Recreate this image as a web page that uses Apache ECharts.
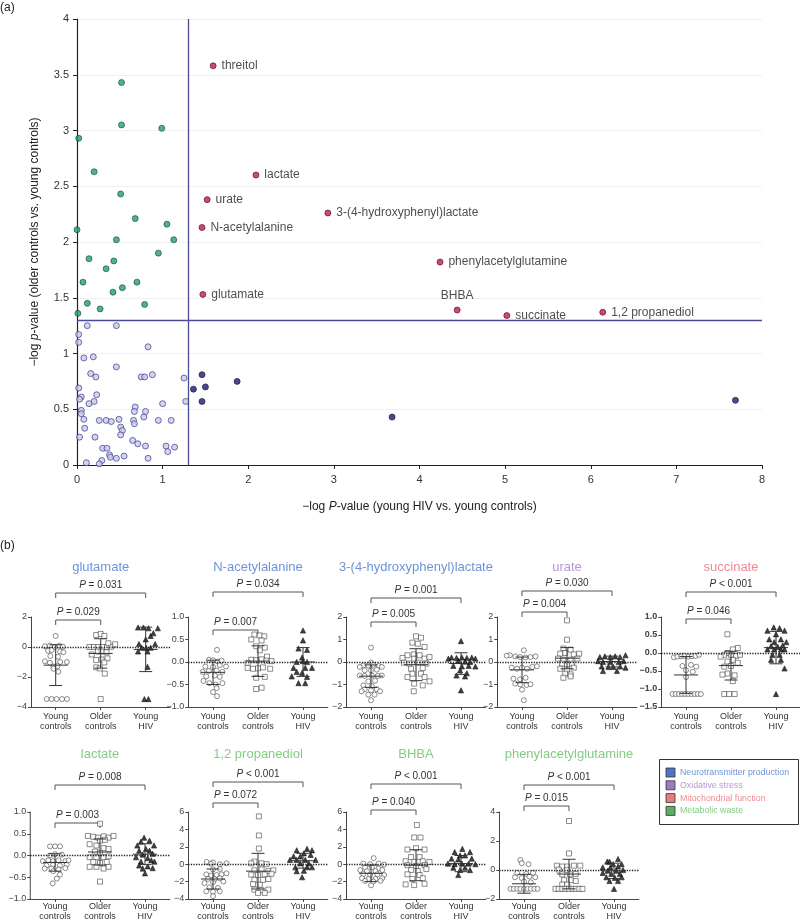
<!DOCTYPE html>
<html><head><meta charset="utf-8">
<script src="https://cdn.jsdelivr.net/npm/echarts@6/dist/echarts.min.js"></script>
<style>html,body{margin:0;padding:0;background:#fff}#c{width:800px;height:921px}</style>
</head><body><div id="c"></div>
<script>
// ---------- Panel (a): volcano-like scatter ----------
const threshold = 1.3;
const redNames = ['threitol','lactate','urate','N-acetylalanine','3-(4-hydroxyphenyl)lactate','phenylacetylglutamine','glutamate','BHBA','succinate','1,2 propanediol'];
const redX = [1.59,2.09,1.52,1.46,2.93,4.24,1.47,4.44,5.02,6.14];
const redY = [3.58,2.60,2.38,2.13,2.26,1.82,1.53,1.39,1.34,1.37];
const greenPts = [[0.52,3.43],[0.52,3.05],[0.99,3.02],[0.02,2.93],[0.20,2.63],[0.51,2.43],[0.68,2.21],[1.05,2.16],[0.0,2.11],[0.46,2.02],[1.13,2.02],[0.95,1.90],[0.14,1.85],[0.43,1.83],[0.34,1.76],[0.07,1.64],[0.70,1.64],[0.53,1.59],[0.42,1.55],[0.12,1.45],[0.27,1.40],[0.79,1.44],[0.01,1.36]];
const lavPts = [[0.12,1.25],[0.46,1.25],[0.02,1.17],[0.02,1.10],[0.83,1.06],[0.08,0.96],[0.19,0.97],[0.46,0.88],[0.16,0.82],[0.22,0.79],[0.75,0.79],[0.79,0.79],[0.88,0.81],[1.25,0.78],[0.02,0.69],[0.05,0.61],[0.03,0.59],[0.23,0.63],[0.20,0.57],[0.14,0.55],[1.27,0.57],[1.00,0.55],[0.68,0.52],[0.80,0.48],[0.67,0.48],[0.05,0.49],[0.05,0.46],[0.08,0.41],[0.26,0.40],[0.34,0.40],[0.40,0.39],[0.49,0.41],[0.66,0.40],[0.67,0.37],[0.78,0.43],[0.95,0.40],[1.10,0.40],[0.09,0.33],[0.51,0.34],[0.53,0.31],[0.51,0.27],[0.03,0.25],[0.21,0.25],[0.65,0.22],[0.71,0.19],[0.80,0.17],[1.04,0.17],[1.14,0.16],[0.30,0.15],[0.35,0.15],[1.06,0.12],[0.38,0.09],[0.39,0.07],[0.46,0.06],[0.55,0.08],[0.83,0.06],[0.11,0.02],[0.29,0.04],[0.26,0.01]];
const navyPts = [[1.46,0.81],[1.36,0.68],[1.50,0.70],[1.46,0.57],[1.87,0.75],[3.68,0.43],[7.69,0.58]];

// ---------- Panel (b): group dot plots, points as [offset within group, value] ----------
const xCats = ['Young\ncontrols','Older\ncontrols','Young\nHIV'];
const panelTitles = ['glutamate','N-acetylalanine','3-(4-hydroxyphenyl)lactate','urate','succinate','lactate','1,2 propanediol','BHBA','phenylacetylglutamine'];
const panelGroup = [0,0,0,1,2,3,3,3,3];
const groupNames = ['Neurotransmitter production','Oxidative stress','Mitochondrial function','Metabolic waste'];
const pUpper = ['P = 0.031','P = 0.034','P = 0.001','P = 0.030','P < 0.001','P = 0.008','P < 0.001','P < 0.001','P < 0.001'];
const pLower = ['P = 0.029','P = 0.007','P = 0.005','P = 0.004','P = 0.046','P = 0.003','P = 0.072','P = 0.040','P = 0.015'];
const yMin = [-4,-1,-2,-2,-1.5,-1,-4,-4,-2];
const yMax = [2,1,2,2,1,1,6,6,4];
const yStep = [2,0.5,1,1,0.5,0.5,2,2,2];
const yDec = [0,1,0,0,1,1,0,0,0];

const gluYC = [[0,0.74],[-0.24,0.05],[-0.13,0.1],[-0.02,0.0],[0.08,0.08],[0.16,0.02],[-0.17,-0.25],[-0.09,-0.2],[0.1,-0.3],[0.17,-0.35],[-0.12,-0.6],[0.05,-0.65],[-0.24,-0.95],[-0.13,-1.05],[0.1,-1.0],[0.25,-1.0],[-0.05,-1.3],[0.04,-1.27],[-0.05,-1.45],[0.06,-1.65],[-0.2,-3.47],[-0.09,-3.47],[0.02,-3.47],[0.14,-3.47],[0.25,-3.47]];
const gluOC = [[-0.1,0.8],[0.0,0.87],[0.08,0.74],[-0.25,0.0],[-0.15,0.0],[-0.06,0.0],[0.04,0.0],[0.14,0.0],[0.23,0.02],[0.32,0.18],[0.17,0.25],[-0.06,-0.3],[0.02,-0.3],[0.13,-0.35],[-0.2,-0.5],[-0.1,-0.87],[0.02,-0.83],[0.15,-0.76],[0.08,-1.03],[-0.1,-1.36],[-0.02,-1.43],[0.09,-1.77],[0.0,-3.47]];
const gluHIV = [[-0.17,1.3],[-0.05,1.3],[0.06,1.25],[0.27,1.25],[0.17,0.92],[0.11,0.74],[0.0,0.51],[-0.15,0.2],[0.21,0.2],[-0.09,-0.05],[0.01,-0.05],[0.11,-0.05],[-0.17,-0.3],[0.04,-0.3],[0.04,-1.32],[-0.03,-3.47],[0.06,-3.47]];
const gluMean = [-1.21,-0.43,-0.16], gluSD = [1.36,0.98,1.48];

const nacYC = [[0.09,0.27],[-0.09,0.05],[0.0,0.04],[0.11,0.01],[0.19,0.03],[-0.17,-0.1],[0.0,-0.11],[0.15,-0.07],[0.29,-0.1],[-0.23,-0.22],[-0.09,-0.2],[0.08,-0.19],[0.21,-0.22],[-0.15,-0.32],[0.04,-0.3],[0.15,-0.33],[-0.21,-0.42],[-0.08,-0.47],[0.06,-0.5],[0.21,-0.47],[0.08,-0.58],[0.0,-0.67],[0.09,-0.76]];
const nacOC = [[-0.08,0.61],[0.04,0.59],[0.14,0.57],[-0.15,0.5],[0.08,0.48],[-0.04,0.35],[0.15,0.32],[0.04,0.26],[0.2,0.12],[-0.15,0.05],[-0.04,0.04],[0.08,0.06],[0.19,0.03],[0.3,0.02],[-0.23,-0.02],[-0.23,-0.13],[-0.11,-0.15],[0.0,-0.14],[0.11,-0.12],[0.27,-0.15],[-0.04,-0.35],[0.15,-0.33],[0.08,-0.57],[-0.04,-0.6]];
const nacHIV = [[0,0.7],[0,0.48],[-0.1,0.3],[0.09,0.27],[-0.02,0.1],[0,0.02],[-0.14,0.0],[0.09,0.0],[-0.21,-0.13],[0.05,-0.13],[0.2,-0.13],[-0.14,-0.22],[-0.02,-0.24],[-0.25,-0.32],[0.09,-0.33],[-0.1,-0.47],[0.05,-0.47]];
const nacMean = [-0.23,0.02,0.0], nacSD = [0.27,0.34,0.32];

const hplYC = [[0,0.64],[0,-0.03],[-0.17,-0.15],[-0.06,-0.15],[0.05,-0.12],[0.17,-0.18],[-0.25,-0.22],[0.24,-0.22],[-0.14,-0.37],[0,-0.37],[0.13,-0.34],[-0.25,-0.6],[-0.14,-0.62],[0.02,-0.6],[0.15,-0.62],[0.24,-0.6],[-0.06,-0.86],[0.09,-0.83],[-0.17,-1.04],[0.02,-1.07],[-0.14,-1.21],[0,-1.26],[0.13,-1.21],[-0.21,-1.3],[0.2,-1.3],[-0.06,-1.45],[0.08,-1.45],[0,-1.7]];
const hplOC = [[0,1.14],[0.11,1.08],[-0.08,0.86],[0.04,0.81],[0.19,0.67],[-0.19,0.3],[-0.05,0.34],[0.08,0.3],[-0.3,0.18],[-0.04,0.15],[0.19,0.15],[0.3,0.22],[-0.27,-0.03],[-0.15,-0.07],[0.04,-0.03],[0.23,-0.07],[-0.11,-0.3],[0.15,-0.27],[-0.08,-0.52],[0.11,-0.52],[-0.19,-0.67],[0.19,-0.67],[0.3,-0.86],[-0.04,-0.96],[0.15,-1.04],[-0.05,-1.3]];
const hplHIV = [[0,0.93],[-0.21,0.2],[-0.1,0.18],[0.02,0.2],[0.13,0.18],[0.24,0.2],[0.32,0.15],[-0.28,0.15],[-0.06,0.05],[0.09,0.02],[0.2,0.0],[-0.17,-0.17],[0.02,-0.2],[0.17,-0.17],[0.32,-0.2],[-0.02,-0.37],[0.13,-0.5],[-0.1,-0.6],[0.09,-0.64],[0,-1.26]];
const hplMean = [-0.63,-0.12,-0.07], hplSD = [0.5,0.71,0.48];

const urYC = [[0.04,0.52],[-0.27,0.3],[-0.15,0.25],[-0.04,0.22],[0.08,0.2],[0.19,0.22],[0.3,0.25],[-0.34,0.28],[-0.23,-0.25],[-0.11,-0.3],[0,-0.25],[0.11,-0.3],[0.23,-0.22],[0.33,-0.19],[-0.19,-0.74],[-0.04,-0.77],[0.08,-0.7],[-0.15,-0.96],[-0.04,-0.99],[0.1,-1.02],[0.19,-0.99],[0,-1.23],[0.04,-1.7]];
const urOC = [[0,1.85],[0,0.99],[-0.08,0.6],[0.08,0.55],[-0.15,0.37],[-0.04,0.4],[0.15,0.34],[0.27,0.37],[-0.2,0.15],[-0.08,0.1],[0.08,0.1],[0.23,0.15],[-0.11,-0.07],[0,-0.1],[0.11,-0.07],[-0.15,-0.3],[0,-0.34],[0.15,-0.25],[-0.04,-0.52],[0.08,-0.55],[-0.08,-0.7],[0.08,-0.64]];
const urHIV = [[-0.27,0.22],[-0.16,0.25],[-0.04,0.22],[0.07,0.25],[0.18,0.22],[0.3,0.3],[-0.31,0.04],[-0.2,0.0],[-0.04,0.0],[0.15,0.0],[0.26,0.04],[-0.23,-0.2],[-0.08,-0.22],[0.03,-0.22],[0.18,-0.2],[0.3,-0.25],[-0.2,-0.4],[0.11,-0.4]];
const urMean = [-0.35,0.17,0.02], urSD = [0.57,0.47,0.24];

const sucYC = [[-0.27,-0.12],[-0.19,-0.1],[-0.11,-0.09],[-0.03,-0.08],[0.05,-0.1],[0.13,-0.09],[0.21,-0.08],[0.29,-0.05],[-0.08,-0.36],[0.11,-0.33],[0.23,-0.38],[0,-0.48],[0.15,-0.52],[0,-0.67],[-0.3,-1.14],[-0.23,-1.14],[-0.16,-1.14],[-0.09,-1.14],[-0.02,-1.14],[0.05,-1.14],[0.12,-1.14],[0.19,-1.14],[0.26,-1.14],[0.33,-1.14]];
const sucOC = [[-0.08,0.52],[0.15,0.14],[0.04,0.1],[-0.08,0.0],[-0.15,-0.05],[0,-0.05],[0.11,-0.08],[-0.23,-0.1],[0.2,-0.05],[0.04,-0.19],[-0.08,-0.24],[0.15,-0.27],[0,-0.36],[-0.15,-0.38],[-0.08,-0.57],[0.08,-0.62],[-0.19,-0.6],[0.04,-0.78],[-0.15,-1.14],[-0.04,-1.14],[0.08,-1.14]];
const sucHIV = [[-0.05,0.71],[0.08,0.69],[-0.19,0.62],[0.19,0.62],[0,0.52],[-0.15,0.38],[0.11,0.38],[-0.04,0.3],[0.23,0.3],[-0.11,0.19],[0.04,0.17],[0.15,0.21],[-0.19,0.1],[-0.04,0.1],[0.11,0.1],[0.19,0.1],[-0.08,-0.05],[0.08,-0.05],[-0.11,-0.19],[0.11,-0.19],[0.19,-0.43],[0,-1.14]];
const sucMean = [-0.61,-0.35,0.15], sucSD = [0.51,0.4,0.45];

const lacYC = [[-0.11,0.21],[0,0.21],[0.11,0.21],[-0.11,0.0],[0,0.03],[0.15,0.02],[-0.27,-0.13],[-0.15,-0.11],[-0.04,-0.13],[0.08,-0.11],[0.23,-0.13],[0.3,-0.11],[-0.19,-0.23],[-0.04,-0.21],[0.11,-0.23],[0.26,-0.21],[-0.23,-0.3],[-0.08,-0.3],[0.08,-0.32],[0.23,-0.29],[-0.04,-0.36],[0.11,-0.44],[0.04,-0.53],[-0.05,-0.64]];
const lacOC = [[0,0.73],[-0.27,0.45],[-0.15,0.43],[-0.04,0.41],[0.08,0.44],[0.19,0.41],[0.3,0.45],[0,0.34],[0.11,0.36],[-0.23,0.26],[-0.08,0.23],[0.08,0.17],[0.19,0.15],[-0.11,0.09],[0,0.06],[-0.23,-0.04],[-0.08,-0.04],[0.08,-0.04],[0.19,-0.02],[-0.15,-0.15],[0,-0.17],[0.15,-0.15],[-0.23,-0.26],[-0.08,-0.26],[0.08,-0.3],[0.19,-0.26],[0,-0.6]];
const lacHIV = [[-0.02,0.41],[0.1,0.34],[-0.09,0.32],[-0.17,0.23],[0.2,0.23],[0.02,0.15],[-0.13,0.11],[0.1,0.11],[0.17,0.04],[-0.05,0.02],[-0.2,-0.04],[0.06,-0.06],[-0.09,-0.14],[0.14,-0.11],[0.21,-0.14],[-0.13,-0.23],[0.06,-0.25],[-0.05,-0.3],[0.17,-0.29],[0,-0.41]];
const lacMean = [-0.16,0.08,0.03], lacSD = [0.2,0.3,0.24];

const pdYC = [[-0.14,0.26],[0,0.2],[0.15,0.0],[0.3,0.1],[-0.05,0.05],[0,-0.6],[0.15,-0.55],[-0.15,-1.17],[-0.04,-1.3],[0.08,-1.24],[0.19,-1.17],[0.3,-1.05],[-0.11,-1.69],[0.04,-1.72],[0.15,-1.61],[-0.19,-2.17],[0,-2.06],[0.23,-2.0],[-0.08,-2.66],[0.11,-2.73],[-0.15,-3.12],[0,-3.18],[0.15,-3.12],[0,-3.67]];
const pdOC = [[0.02,5.5],[0.02,3.3],[0.02,1.8],[-0.08,0.3],[0.08,0.1],[0.19,0.0],[-0.15,0.1],[-0.08,-0.7],[0.08,-0.6],[0.23,-0.8],[0.34,-0.7],[-0.15,-1.2],[0,-1.24],[0.15,-1.17],[0.3,-1.1],[-0.08,-1.8],[0.11,-1.8],[0.23,-1.7],[-0.11,-2.28],[0.04,-2.36],[-0.08,-2.92],[0.08,-3.0],[0.23,-2.92],[0,-3.3],[0.15,-3.3]];
const pdHIV = [[0.09,1.76],[-0.14,1.6],[0.2,1.6],[0.02,1.25],[-0.21,0.9],[-0.06,0.9],[0.17,1.07],[-0.29,0.5],[-0.14,0.5],[0.05,0.5],[0.28,0.5],[-0.06,0.1],[0.13,0.1],[-0.17,-0.35],[0.09,-0.35],[0.2,-0.35],[-0.14,-0.8],[0.02,-0.75],[-0.02,-1.5]];
const pdMean = [-1.7,-0.8,0.4], pdSD = [1.15,2.05,0.85];

const bhYC = [[0.06,0.7],[-0.17,0.07],[-0.02,0.0],[0.17,0.07],[0.29,-0.04],[-0.13,-0.41],[0.02,-0.34],[0.17,-0.49],[-0.24,-0.67],[-0.09,-0.79],[0.1,-0.79],[0.25,-0.67],[-0.17,-1.16],[-0.02,-1.24],[0.14,-1.16],[0.29,-1.24],[-0.2,-1.61],[-0.05,-1.69],[0.1,-1.69],[0.25,-1.61],[-0.13,-1.91],[0.05,-1.99],[0.21,-1.91],[0,-2.43]];
const bhOC = [[0.02,4.5],[-0.04,3.07],[0.1,3.07],[-0.19,1.69],[0,1.84],[0.19,1.69],[-0.11,0.82],[0.08,0.82],[-0.23,0.34],[-0.04,0.26],[0.15,0.34],[0.3,0.26],[-0.19,-0.11],[0,-0.19],[0.19,-0.11],[-0.11,-0.67],[0.04,-0.79],[0.23,-0.56],[-0.19,-1.16],[0.08,-1.24],[-0.08,-1.69],[0.15,-1.61],[-0.23,-2.32],[-0.04,-2.4],[0.19,-2.25]];
const bhHIV = [[0.03,1.76],[-0.14,1.39],[0.2,1.39],[-0.02,1.01],[0.09,1.01],[-0.21,0.64],[-0.06,0.56],[0.24,0.64],[-0.29,0.07],[-0.14,0.0],[0.02,0.07],[0.17,0.07],[0.32,0.0],[-0.17,-0.41],[0.09,-0.41],[-0.02,-0.67],[0.2,-0.67],[-0.06,-1.24]];
const bhMean = [-1.05,-0.12,0.07], bhSD = [0.95,1.78,0.93];

const pagYC = [[-0.08,0.69],[0.1,0.4],[-0.05,0.47],[-0.15,-0.2],[0.05,-0.27],[0.2,-0.2],[-0.2,-0.5],[-0.05,-0.55],[0.12,-0.45],[0.25,-0.5],[0,-0.8],[0.15,-0.85],[-0.3,-1.3],[-0.23,-1.3],[-0.15,-1.3],[-0.08,-1.3],[0,-1.3],[0.08,-1.3],[0.15,-1.3],[0.23,-1.3],[0.3,-1.3]];
const pagOC = [[0,3.38],[0,1.14],[-0.27,0.3],[-0.15,0.24],[-0.04,0.24],[0.11,0.3],[0.25,0.3],[-0.23,0.03],[-0.04,0.01],[-0.15,-0.3],[0.02,-0.3],[0.15,-0.27],[-0.11,-0.7],[0.04,-0.7],[0.15,-0.76],[-0.15,-1.0],[-0.04,-1.0],[-0.3,-1.3],[-0.23,-1.3],[-0.15,-1.3],[-0.08,-1.3],[0,-1.3],[0.08,-1.3],[0.15,-1.3],[0.23,-1.3],[0.3,-1.3]];
const pagHIV = [[-0.15,0.58],[-0.1,0.58],[0.09,0.76],[-0.02,0.4],[0.17,0.4],[-0.25,0.18],[-0.08,0.18],[0.09,0.24],[-0.14,-0.05],[0.05,-0.05],[0.2,0.0],[-0.25,-0.2],[-0.06,-0.27],[0.13,-0.27],[-0.17,-0.5],[0.02,-0.54],[0.17,-0.5],[-0.1,-0.76],[0.09,-0.76],[0,-1.3]];
const pagMean = [-0.95,-0.28,-0.06], pagSD = [0.65,1.02,0.53];

const panelData = [[gluYC,gluOC,gluHIV],[nacYC,nacOC,nacHIV],[hplYC,hplOC,hplHIV],[urYC,urOC,urHIV],[sucYC,sucOC,sucHIV],[lacYC,lacOC,lacHIV],[pdYC,pdOC,pdHIV],[bhYC,bhOC,bhHIV],[pagYC,pagOC,pagHIV]];
const panelMean = [gluMean,nacMean,hplMean,urMean,sucMean,lacMean,pdMean,bhMean,pagMean];
const panelSD = [gluSD,nacSD,hplSD,urSD,sucSD,lacSD,pdSD,bhSD,pagSD];

// ---------- layout & style (not data) ----------
const FONT = '"Liberation Sans", Arial, Helvetica, sans-serif';
const groupText = ['#6d94d8','#b994d6','#f08a92','#84cc84'];
const groupFill = ['#4f74c4','#9a7cbc','#e77a7a','#5fae5f'];
const U = 45; // px per group
const layout = [
  {c0:55.7, top:617, h:90, bU:593, bL:620, tY:567, lm:5},
  {c0:213,  top:617, h:90, bU:592, bL:630, tY:567, lm:5},
  {c0:371,  top:617, h:90, bU:598, bL:622, tY:567, lm:5},
  {c0:522,  top:617, h:90, bU:591, bL:612, tY:567, lm:5},
  {c0:686,  top:617, h:90, bU:592, bL:619, tY:567, lm:5},
  {c0:55,   top:812, h:87, bU:785, bL:823, tY:754, lm:3},
  {c0:213,  top:812, h:87, bU:782, bL:803, tY:754, lm:3},
  {c0:371,  top:812, h:87, bU:784, bL:810, tY:754, lm:3},
  {c0:524,  top:812, h:87, bU:785, bL:806, tY:754, lm:3}
];

const grids = [{left:77, top:19, width:685, height:446, containLabel:false, outerBoundsMode:'none'}];
const xAxes = [{
  gridIndex:0, type:'value', min:0, max:8, interval:1,
  axisLine:{show:true, lineStyle:{color:'#222', width:1.2}},
  axisTick:{show:true, length:4, lineStyle:{color:'#222'}},
  axisLabel:{fontSize:11, color:'#333', margin:9, fontFamily:FONT},
  splitLine:{show:false},
  name:'−log {i|P}-value (young HIV vs. young controls)', nameLocation:'middle', nameGap:36,
  nameTextStyle:{fontSize:12, color:'#222', fontFamily:FONT, rich:{i:{fontStyle:'italic', fontSize:12, color:'#222', fontFamily:FONT}}}
}];
const yAxes = [{
  gridIndex:0, type:'value', min:0, max:4, interval:0.5,
  axisLine:{show:true, lineStyle:{color:'#222', width:1.2}},
  axisTick:{show:true, length:4, lineStyle:{color:'#222'}},
  axisLabel:{fontSize:11, color:'#333', margin:8, fontFamily:FONT},
  splitLine:{show:true, lineStyle:{color:'#f0f0f0', width:1}},
  name:'−log {i|p}-value (older controls vs. young controls)', nameLocation:'middle', nameGap:36,
  nameTextStyle:{fontSize:12, color:'#222', fontFamily:FONT, rich:{i:{fontStyle:'italic', fontSize:12, color:'#222', fontFamily:FONT}}}
}];

const series = [
  {type:'scatter', xAxisIndex:0, yAxisIndex:0, symbolSize:6, z:3,
   itemStyle:{color:'#c9c9ea', borderColor:'#3c3c8c', borderWidth:0.9},
   data:lavPts,
   markLine:{silent:true, symbol:'none', label:{show:false}, animation:false,
     lineStyle:{color:'#4a4a96', width:1.3, type:'solid'},
     data:[{xAxis:threshold},{yAxis:threshold}]}},
  {type:'scatter', xAxisIndex:0, yAxisIndex:0, symbolSize:6, z:3,
   itemStyle:{color:'#229c7c', borderColor:'#17443f', borderWidth:0.8}, data:greenPts},
  {type:'scatter', xAxisIndex:0, yAxisIndex:0, symbolSize:6, z:3,
   itemStyle:{color:'#1b1d6a', borderColor:'#10113f', borderWidth:0.8}, data:navyPts},
  {type:'scatter', xAxisIndex:0, yAxisIndex:0, symbolSize:6, z:4,
   itemStyle:{color:'#c41a4c', borderColor:'#4a0a1c', borderWidth:0.8},
   label:{show:true, position:'right', distance:5, fontSize:12, color:'#222', fontFamily:FONT,
     formatter:p=>p.data.value[2]},
   data:redNames.map((n,i)=>{
     const d = {value:[redX[i], redY[i], n]};
     if (n==='BHBA') d.label = {position:'top', distance:5};
     return d;
   })}
];

const fmtY = (dec)=> (v)=> (v<0?'−':'') + Math.abs(v).toFixed(dec);

panelTitles.forEach((t,k)=>{
  const L = layout[k];
  const gi = k+1;
  grids.push({left:L.c0-0.55*U, top:L.top, width:3.1*U, height:L.h, containLabel:false, outerBoundsMode:'none'});
  xAxes.push({gridIndex:gi, type:'value', min:-0.55, max:2.55,
    axisLine:{show:true, onZero:false, lineStyle:{color:'#444', width:1}},
    axisTick:{show:true, length:3, customValues:[0,1,2], lineStyle:{color:'#444'}},
    axisLabel:{customValues:[0,1,2], formatter:v=>xCats[Math.round(v)], fontSize:9, lineHeight:9.5, color:'#333', margin:L.lm, fontFamily:FONT},
    splitLine:{show:false}});
  yAxes.push({gridIndex:gi, type:'value', min:yMin[k], max:yMax[k], interval:yStep[k],
    axisLine:{show:true, onZero:false, lineStyle:{color:'#444', width:1}},
    axisTick:{show:true, length:3, lineStyle:{color:'#444'}},
    axisLabel:{formatter:fmtY(yDec[k]), fontSize:9, color:'#444', margin:4, fontFamily:FONT, fontWeight: k===4?'bold':'normal'},
    splitLine:{show:false}});
  const shapes = [
    {symbol:'circle', size:5, color:'#fff', border:'#333'},
    {symbol:'rect', size:5, color:'#fff', border:'#333'},
    {symbol:'triangle', size:5.2, color:'#111', border:'#111'}
  ];
  panelData[k].forEach((grp,g)=>{
    const s = {type:'scatter', xAxisIndex:gi, yAxisIndex:gi, symbol:shapes[g].symbol, symbolSize:shapes[g].size, z:3,
      itemStyle:{color:shapes[g].color, borderColor:shapes[g].border, borderWidth:0.7},
      data:grp.map(p=>[g+p[0], p[1]])};
    if (g===0) s.markLine = {silent:true, symbol:'none', label:{show:false}, animation:false,
      lineStyle:{color:'#222', width:1.3, type:'dotted'}, data:[{yAxis:0}]};
    series.push(s);
  });
  series.push({type:'custom', xAxisIndex:gi, yAxisIndex:gi, z:5, silent:true,
    data:panelMean[k].map((m,g)=>[g, m, panelSD[k][g]]),
    renderItem:(params, api)=>{
      const x = api.value(0), m = api.value(1), s = api.value(2);
      const c = api.coord([x,m]), t = api.coord([x,m+s]), b = api.coord([x,m-s]);
      const st = {stroke:'#333', lineWidth:1};
      const ln = (x1,y1,x2,y2)=>({type:'line', shape:{x1,y1,x2,y2}, style:st});
      return {type:'group', children:[
        ln(c[0]-12,c[1],c[0]+12,c[1]),
        ln(t[0],t[1],b[0],b[1]),
        ln(t[0]-6.5,t[1],t[0]+6.5,t[1]),
        ln(b[0]-6.5,b[1],b[0]+6.5,b[1])
      ]};
    }});
});

const chart = echarts.init(document.getElementById('c'), null, {renderer:'canvas'});
chart.setOption({
  animation:false,
  textStyle:{fontFamily:FONT},
  grid:grids, xAxis:xAxes, yAxis:yAxes, series:series
});

// annotations: panel labels, titles, brackets, legend
const graphics = [
  {type:'text', left:0, top:2, style:{text:'(a)', fontSize:12, fill:'#222', fontFamily:FONT}},
  {type:'text', left:0, top:540, style:{text:'(b)', fontSize:12, fill:'#222', fontFamily:FONT}}
];
const pRich = {i:{fontStyle:'italic', fontSize:10, fill:'#333', fontFamily:FONT}};
panelTitles.forEach((t,k)=>{
  const L = layout[k];
  const px = [0,1,2].map(v=>chart.convertToPixel({xAxisIndex:k+1}, v));
  graphics.push({type:'text', x:px[1], y:L.tY, style:{text:t, fontSize:13, fill:groupText[panelGroup[k]], fontFamily:FONT, align:'center', verticalAlign:'middle'}});
  const br = (xa, xb, y, lab)=>{
    graphics.push({type:'polyline', shape:{points:[[xa,y+5],[xa,y],[xb,y],[xb,y+5]]}, style:{stroke:'#555', lineWidth:1, fill:null}});
    graphics.push({type:'text', x:(xa+xb)/2, y:y-7.5, style:{text:lab.replace(/^P/,'{i|P}'), rich:pRich, fontSize:10, fill:'#333', fontFamily:FONT, align:'center', verticalAlign:'middle'}});
  };
  br(px[0], px[2], L.bU, pUpper[k]);
  br(px[0], px[1], L.bL, pLower[k]);
});
graphics.push({type:'rect', shape:{x:659.5, y:759.5, width:139, height:65}, style:{fill:'#fff', stroke:'#333', lineWidth:1}});
groupNames.forEach((n,i)=>{
  const cy = 772.5 + i*12.8;
  graphics.push({type:'rect', shape:{x:666, y:cy-4.5, width:9, height:9}, style:{fill:groupFill[i], stroke:'#333', lineWidth:0.8}});
  graphics.push({type:'text', x:680, y:cy, style:{text:n, fontSize:8.8, fill:groupText[i], fontFamily:FONT, verticalAlign:'middle'}});
});
chart.setOption({graphic:graphics});
</script></body></html>
